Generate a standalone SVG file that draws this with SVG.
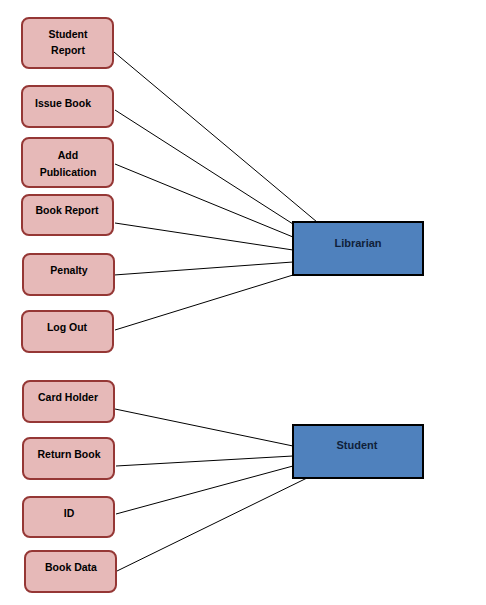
<svg xmlns="http://www.w3.org/2000/svg" width="486" height="605" viewBox="0 0 486 605">
<style>
.s{fill:#E6B9B8;stroke:#953735;stroke-width:2}
.b{fill:#4F81BD;stroke:#000;stroke-width:2}
.t{font-family:"Liberation Sans",Arial,sans-serif;font-weight:bold;font-size:10.5px;fill:#000;text-anchor:middle}
.bt{font-family:"Liberation Sans",Arial,sans-serif;font-weight:bold;font-size:11px;fill:#0F1F3A;text-anchor:middle}
.c line{stroke:#000;stroke-width:1}
</style>
<rect width="486" height="605" fill="#fff"/>
<g class="c" id="connectors">
<line x1="114" y1="52" x2="317" y2="222"/>
<line x1="115" y1="110" x2="293" y2="224"/>
<line x1="115" y1="164" x2="293" y2="237"/>
<line x1="115" y1="223" x2="293" y2="250"/>
<line x1="114" y1="275" x2="293" y2="262"/>
<line x1="115" y1="330" x2="293" y2="275"/>
<line x1="115" y1="409" x2="293" y2="446"/>
<line x1="116" y1="466" x2="293" y2="456"/>
<line x1="116" y1="514" x2="293" y2="466"/>
<line x1="117" y1="571" x2="307" y2="478"/>
</g>
<g id="student-report"><rect class="s" x="22" y="18" width="91" height="50" rx="7"/><text class="t" x="68" y="38">Student</text><text class="t" x="68" y="54">Report</text></g>
<g id="issue-book"><rect class="s" x="22" y="86" width="91" height="41" rx="7"/><text class="t" x="63" y="107">Issue Book</text></g>
<g id="add-publication"><rect class="s" x="22" y="138" width="91" height="49" rx="7"/><text class="t" x="68" y="159">Add</text><text class="t" x="68" y="176">Publication</text></g>
<g id="book-report"><rect class="s" x="22" y="195" width="91" height="40" rx="7"/><text class="t" x="67" y="214">Book Report</text></g>
<g id="penalty"><rect class="s" x="23" y="254" width="91" height="41" rx="7"/><text class="t" x="69" y="274">Penalty</text></g>
<g id="log-out"><rect class="s" x="22" y="311" width="91" height="41" rx="7"/><text class="t" x="67" y="331">Log Out</text></g>
<g id="card-holder"><rect class="s" x="23" y="381" width="91" height="41" rx="7"/><text class="t" x="68" y="401">Card Holder</text></g>
<g id="return-book"><rect class="s" x="23" y="438" width="91" height="41" rx="7"/><text class="t" x="69" y="458">Return Book</text></g>
<g id="id"><rect class="s" x="23" y="497" width="91" height="40" rx="7"/><text class="t" x="69" y="517">ID</text></g>
<g id="book-data"><rect class="s" x="25" y="551" width="91" height="41" rx="7"/><text class="t" x="71" y="571">Book Data</text></g>
<g id="librarian"><rect class="b" x="293" y="222" width="130" height="53"/><text class="bt" x="358" y="247">Librarian</text></g>
<g id="student"><rect class="b" x="293" y="425" width="130" height="53"/><text class="bt" x="357" y="449">Student</text></g>
</svg>
